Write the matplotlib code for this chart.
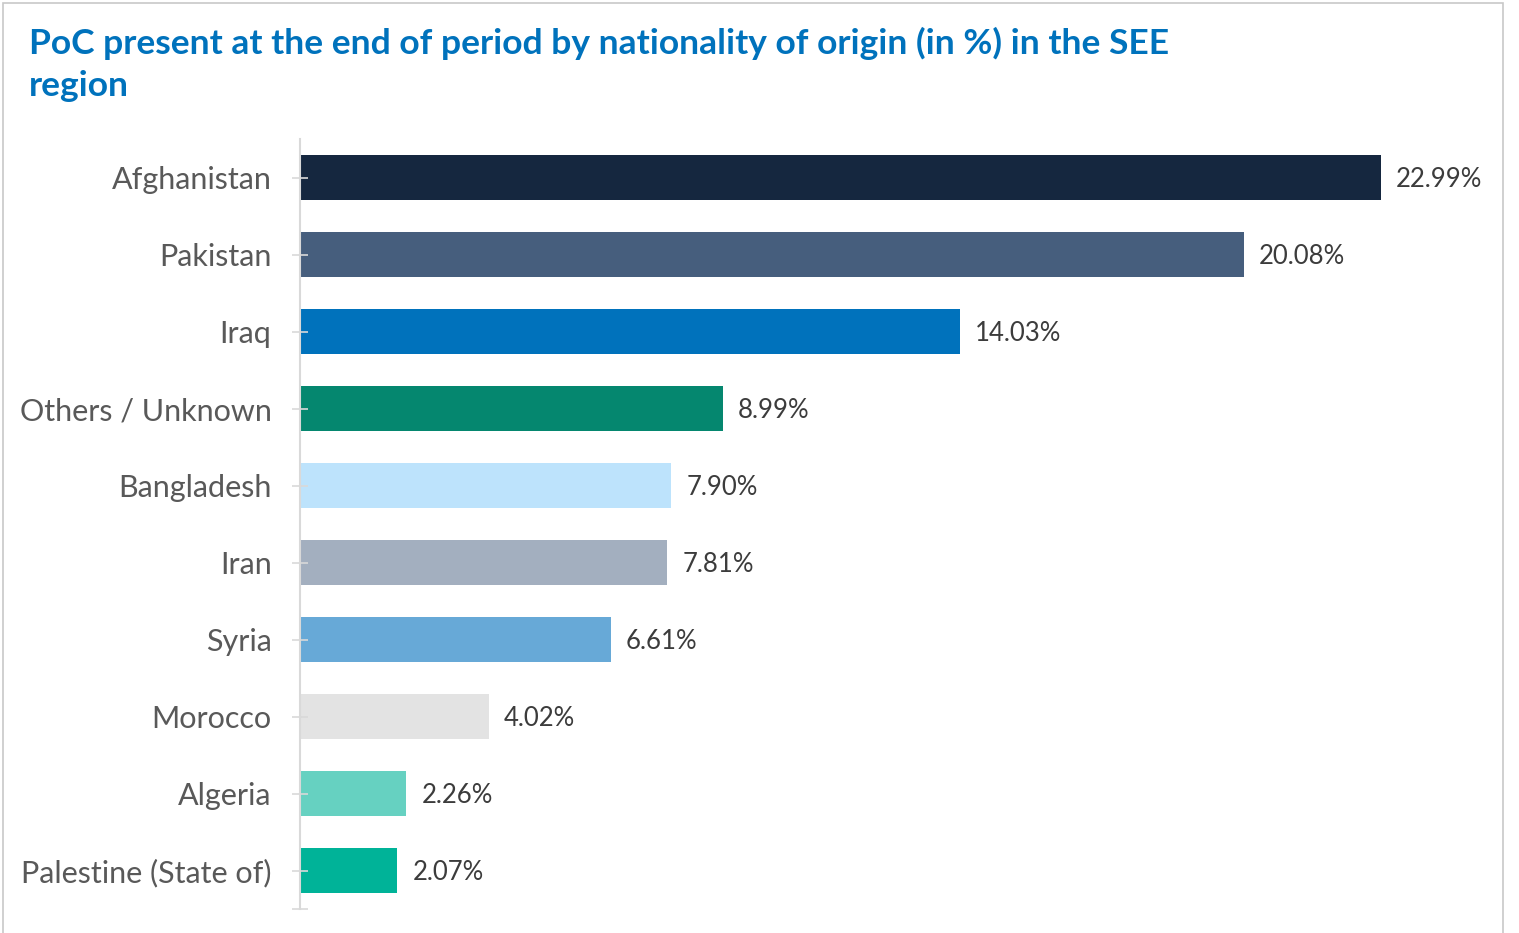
import matplotlib.pyplot as plt
from matplotlib.patches import Rectangle

plt.rcParams["font.family"] = ["Lato", "DejaVu Sans"]

countries = ["Afghanistan", "Pakistan", "Iraq", "Others / Unknown", "Bangladesh",
             "Iran", "Syria", "Morocco", "Algeria", "Palestine (State of)"]
shares = [22.99, 20.08, 14.03, 8.99, 7.90, 7.81, 6.61, 4.02, 2.26, 2.07]
colors = ["#15273F", "#465E7D", "#0072BC", "#05876F", "#BDE3FC",
          "#A3AFBF", "#67A9D7", "#E3E3E3", "#66D1C1", "#00B398"]

W, H = 1519, 933
fig = plt.figure(figsize=(W / 100, H / 100), dpi=100)

# outer frame
fig.patches.append(Rectangle((3 / W, -0.01), 1500 / W, 1 - 3 / H + 0.01,
                             transform=fig.transFigure, fill=False,
                             edgecolor="#C8C8C8", linewidth=1.2))

fig.text(29 / W, 1 - 27 / H,
         "PoC present at the end of period by nationality of origin (in %) in the SEE\nregion",
         ha="left", va="top", fontsize=25.5, fontweight="bold", color="#0072BC",
         linespacing=1.38)

ax = fig.add_axes([300 / W, 1 - 909 / H, (1490 - 300) / W, (909 - 139) / H])
ypos = list(range(len(countries)))
bars = ax.barh(ypos, shares, height=0.58, color=colors)
px_per_unit = 1081 / 22.99
ax.set_xlim(0, (1490 - 300) / px_per_unit)
ax.set_ylim(len(countries) - 0.5, -0.5)

for b, v in zip(bars, shares):
    ax.text(b.get_width() + 15 / px_per_unit, b.get_y() + b.get_height() / 2 + 0.03,
            f"{v:.2f}%", va="center", ha="left", fontsize=18.5, color="#3C3C3C")

ax.set_yticks(ypos)
ax.set_yticklabels(countries, fontsize=22, color="#595959")
ax.set_yticks([len(countries) - 0.5], minor=True)
ax.tick_params(axis="y", which="both", direction="inout", length=11, width=1.2,
               color="#D9D9D9", pad=15)
ax.set_xticks([])
for s in ["top", "right", "bottom"]:
    ax.spines[s].set_visible(False)
ax.spines["left"].set_color("#D9D9D9")
ax.spines["left"].set_linewidth(1.5)

fig.savefig("out.png", dpi=100)
